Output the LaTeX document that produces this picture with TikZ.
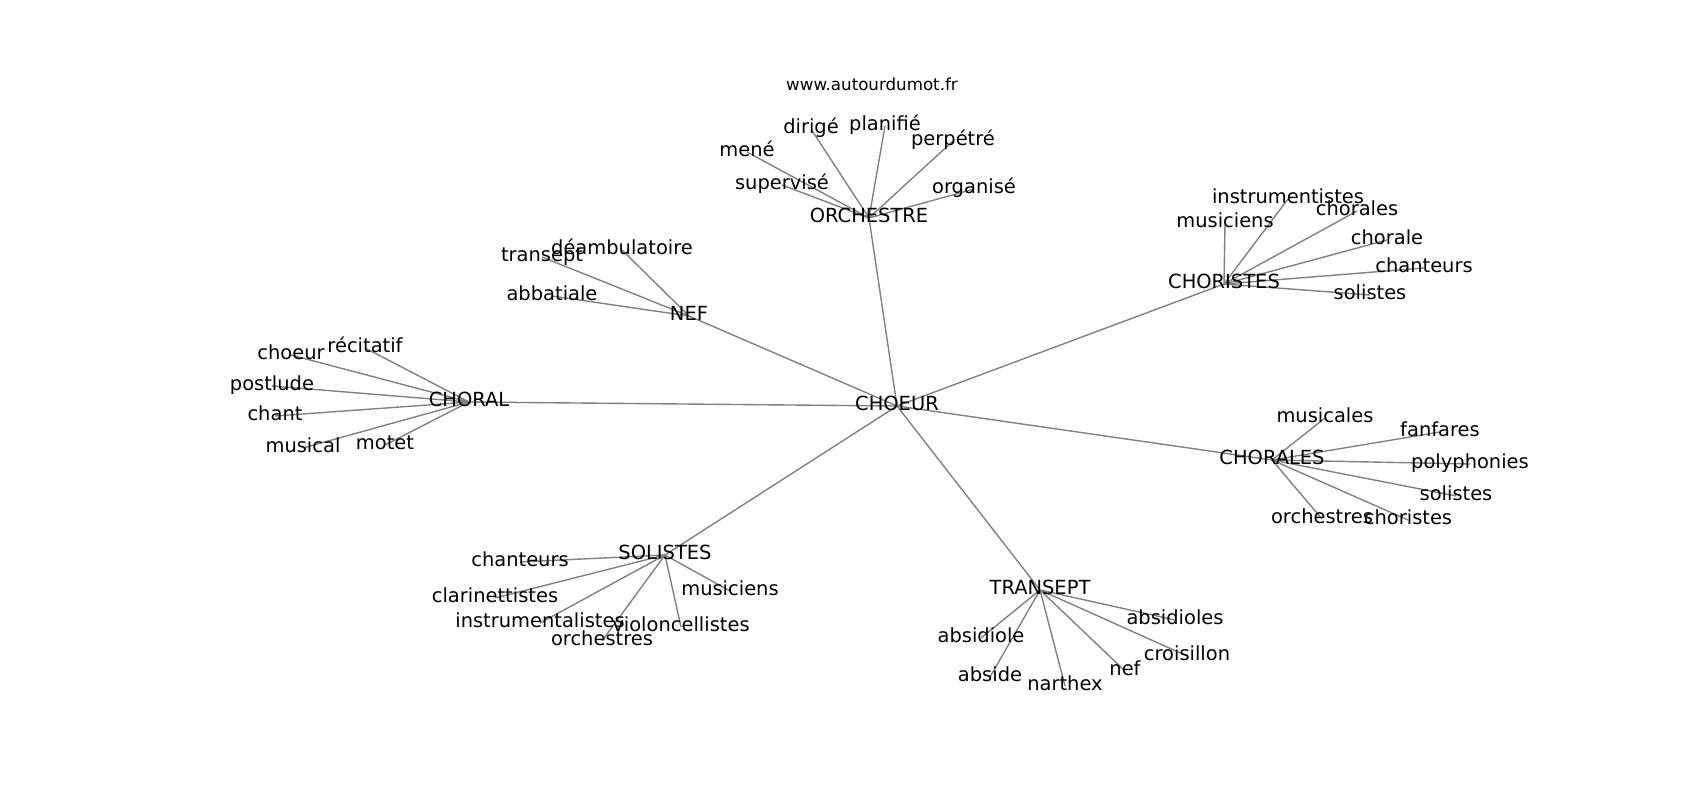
\documentclass[tikz,border=0pt]{standalone}
\usepackage{fontspec}
\setmainfont{DejaVu Sans}
\usetikzlibrary{backgrounds}
\tikzset{
  lbl/.style={inner sep=0pt, outer sep=0pt, text height=0.96em, text depth=0.24em,
    font=\fontsize{14bp}{17bp}\selectfont, text=black},
  ttl/.style={inner sep=0pt, outer sep=0pt, text height=0.96em, text depth=0.24em,
    font=\fontsize{12bp}{14bp}\selectfont, text=black},
  edge/.style={draw=black!50, line width=1bp}
}
\begin{document}
\begin{tikzpicture}[x=0.01in, y=-0.01in]
\useasboundingbox (0,0) rectangle (1700,800);
\begin{scope}[shift={(0,4)}]
% title
\node[ttl] (title) at (872,82) {www.autourdumot.fr};
% hubs
\node[lbl] (choeur-h) at (897,402) {CHOEUR};
\node[lbl] (orch) at (869,214) {ORCHESTRE};
\node[lbl] (nefh) at (689,312) {NEF};
\node[lbl] (choral) at (469,398) {CHORAL};
\node[lbl] (solh) at (665,551) {SOLISTES};
\node[lbl] (trans) at (1040,586) {TRANSEPT};
\node[lbl] (chorales-h) at (1272,456) {CHORALES};
\node[lbl] (choristes-h) at (1224,280) {CHORISTES};
% ORCHESTRE leaves
\node[lbl] (o1) at (811,125) {dirigé};
\node[lbl] (o2) at (885,122) {planifié};
\node[lbl] (o3) at (953,137) {perpétré};
\node[lbl] (o4) at (747,148) {mené};
\node[lbl] (o5) at (782,181) {supervisé};
\node[lbl] (o6) at (974,185) {organisé};
% NEF leaves
\node[lbl] (n1) at (622,246) {déambulatoire};
\node[lbl] (n2) at (542,253) {transept};
\node[lbl] (n3) at (552,292) {abbatiale};
% CHORAL leaves
\node[lbl] (c1) at (291,351) {choeur};
\node[lbl] (c2) at (365,344) {récitatif};
\node[lbl] (c3) at (272,382) {postlude};
\node[lbl] (c4) at (275,412) {chant};
\node[lbl] (c5) at (303,444) {musical};
\node[lbl] (c6) at (385,441) {motet};
% SOLISTES leaves
\node[lbl] (s1) at (520,558) {chanteurs};
\node[lbl] (s2) at (495,594) {clarinettistes};
\node[lbl] (s3) at (540,619) {instrumentalistes};
\node[lbl] (s4) at (681,623) {violoncellistes};
\node[lbl] (s5) at (602,637) {orchestres};
\node[lbl] (s6) at (730,587) {musiciens};
% TRANSEPT leaves
\node[lbl] (t1) at (1175,616) {absidioles};
\node[lbl] (t2) at (981,634) {absidiole};
\node[lbl] (t3) at (1187,652) {croisillon};
\node[lbl] (t4) at (1125,667) {nef};
\node[lbl] (t5) at (990,673) {abside};
\node[lbl] (t6) at (1065,682) {narthex};
% CHORISTES leaves
\node[lbl] (r1) at (1288,195) {instrumentistes};
\node[lbl] (r2) at (1225,219) {musiciens};
\node[lbl] (r3) at (1357,207) {chorales};
\node[lbl] (r4) at (1387,236) {chorale};
\node[lbl] (r5) at (1424,264) {chanteurs};
\node[lbl] (r6) at (1370,291) {solistes};
% CHORALES leaves
\node[lbl] (a1) at (1325,414) {musicales};
\node[lbl] (a2) at (1440,428) {fanfares};
\node[lbl] (a3) at (1470,460) {polyphonies};
\node[lbl] (a4) at (1456,492) {solistes};
\node[lbl] (a5) at (1322,515) {orchestres};
\node[lbl] (a6) at (1408,516) {choristes};
\begin{pgfonlayer}{background}
\foreach \h in {orch,nefh,choral,solh,trans,chorales-h,choristes-h}
  \draw[edge] (choeur-h.center) -- (\h.center);
\foreach \l in {o1,o2,o3,o4,o5,o6} \draw[edge] (orch.center) -- (\l.center);
\foreach \l in {n1,n2,n3} \draw[edge] (nefh.center) -- (\l.center);
\foreach \l in {c1,c2,c3,c4,c5,c6} \draw[edge] (choral.center) -- (\l.center);
\foreach \l in {s1,s2,s3,s4,s5,s6} \draw[edge] (solh.center) -- (\l.center);
\foreach \l in {t1,t2,t3,t4,t5,t6} \draw[edge] (trans.center) -- (\l.center);
\foreach \l in {r1,r2,r3,r4,r5,r6} \draw[edge] (choristes-h.center) -- (\l.center);
\foreach \l in {a1,a2,a3,a4,a5,a6} \draw[edge] (chorales-h.center) -- (\l.center);
\end{pgfonlayer}
\end{scope}
\end{tikzpicture}
\end{document}
